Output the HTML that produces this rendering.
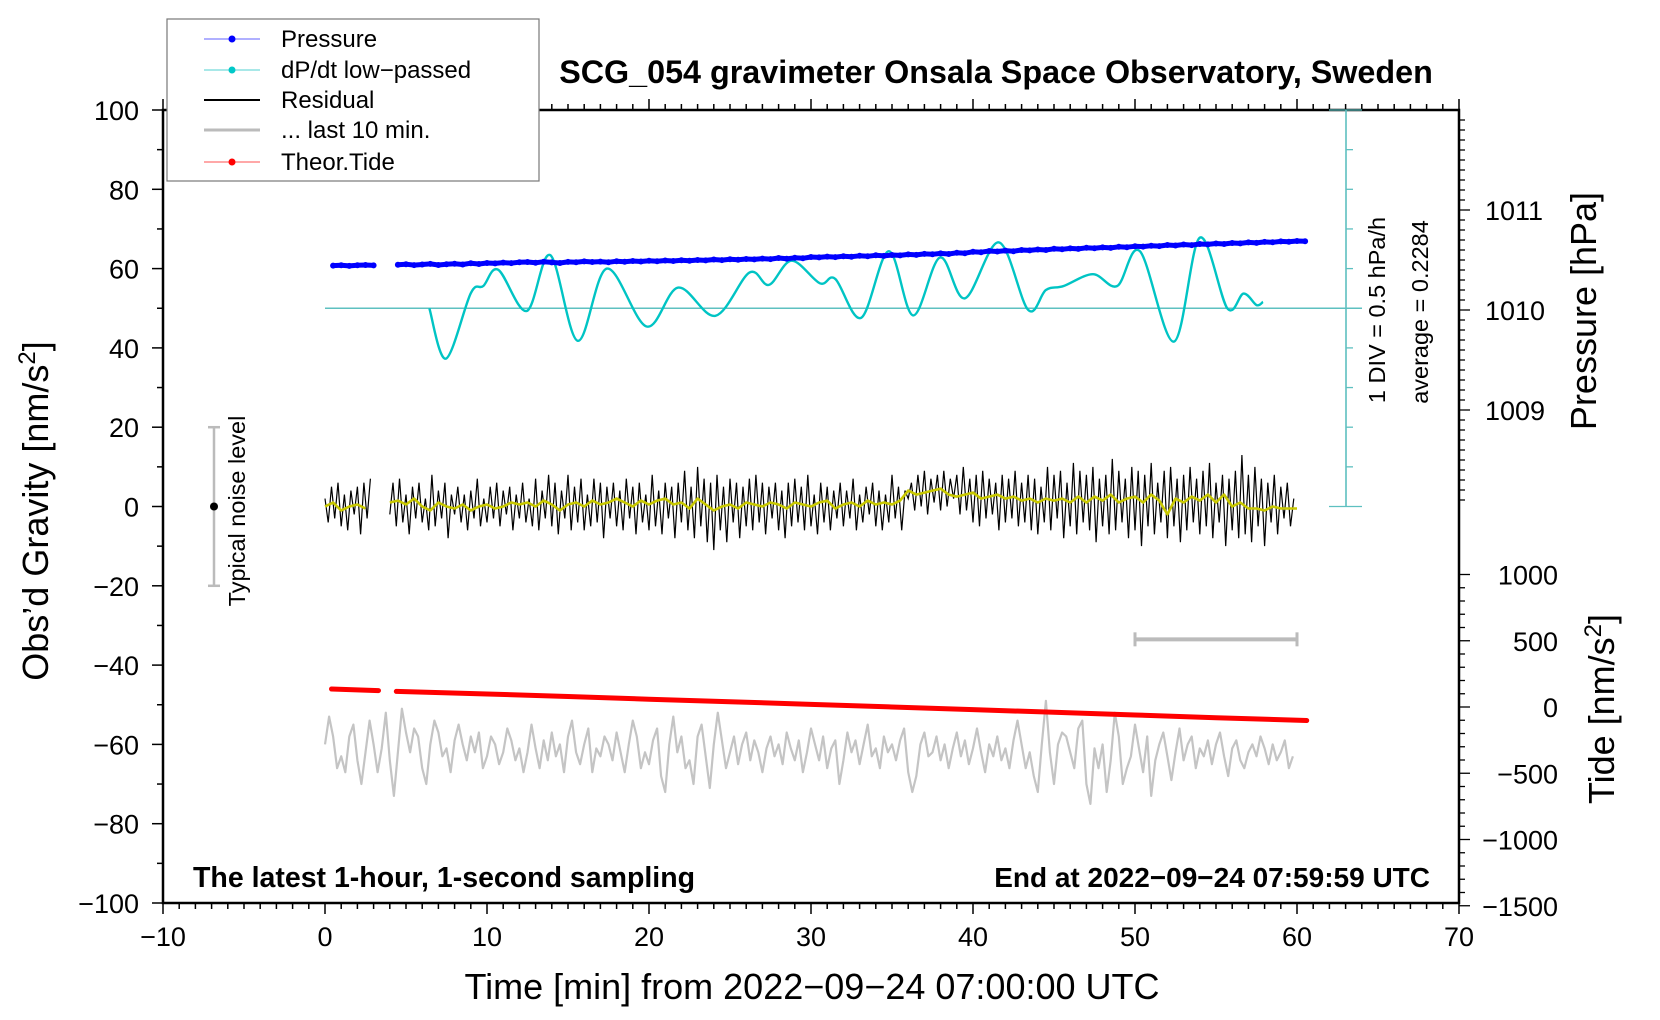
<!DOCTYPE html>
<html><head><meta charset="utf-8"><style>
html,body{margin:0;padding:0;background:#fff;overflow:hidden;}
svg{display:block;font-family:"Liberation Sans",sans-serif;}
</style></head><body>
<svg id="chart" width="1660" height="1020" viewBox="0 0 1660 1020" xmlns="http://www.w3.org/2000/svg">
<g id="axes"></g>
<g id="series"></g>
<text x="996" y="83" font-size="32.3" font-weight="bold" text-anchor="middle">SCG_054 gravimeter Onsala Space Observatory, Sweden</text>
<text x="193" y="887" font-size="28.5" font-weight="bold">The latest 1-hour, 1-second sampling</text>
<text x="1430" y="887" font-size="28" font-weight="bold" text-anchor="end">End at 2022−09−24 07:59:59 UTC</text>
<text x="812" y="999" font-size="36" text-anchor="middle">Time [min] from 2022−09−24 07:00:00 UTC</text>
<text transform="translate(48,511) rotate(-90)" font-size="36" text-anchor="middle">Obs’d Gravity [nm/s<tspan dy="-13" font-size="24">2</tspan><tspan dy="13">]</tspan></text>
<text transform="translate(1596,311) rotate(-90)" font-size="36" text-anchor="middle">Pressure [hPa]</text>
<text transform="translate(1614,709) rotate(-90)" font-size="36" text-anchor="middle">Tide [nm/s<tspan dy="-13" font-size="24">2</tspan><tspan dy="13">]</tspan></text>
<text transform="translate(1385,310) rotate(-90)" font-size="23.5" text-anchor="middle">1 DIV = 0.5 hPa/h</text>
<text transform="translate(1428,312) rotate(-90)" font-size="23.5" text-anchor="middle">average = 0.2284</text>
<text transform="translate(245,511) rotate(-90)" font-size="23.5" text-anchor="middle">Typical noise level</text>
<g>
<rect x="167" y="19" width="372" height="162" fill="#fff" stroke="#777" stroke-width="1.2"/>
<g><line x1="204" y1="39" x2="260" y2="39" stroke="#6060ff" stroke-width="1"/><circle cx="232" cy="39" r="3.5" fill="#0000ff"/><text x="281" y="47" font-size="24">Pressure</text></g>
<g><line x1="204" y1="70" x2="260" y2="70" stroke="#50d0d0" stroke-width="1"/><circle cx="232" cy="70" r="3.5" fill="#00c8c8"/><text x="281" y="78" font-size="24">dP/dt low−passed</text></g>
<g><line x1="204" y1="100" x2="260" y2="100" stroke="#000" stroke-width="2"/><text x="281" y="108" font-size="24">Residual</text></g>
<g><line x1="204" y1="130" x2="260" y2="130" stroke="#bbb" stroke-width="3"/><text x="281" y="138" font-size="24">... last 10 min.</text></g>
<g><line x1="204" y1="162" x2="260" y2="162" stroke="#ff5050" stroke-width="1"/><circle cx="232" cy="162" r="3.5" fill="#ff0000"/><text x="281" y="170" font-size="24">Theor.Tide</text></g>
</g>
</svg>
<script>
// ---- data ----
const xTicks = [-10,0,10,20,30,40,50,60,70];
const yTicks = [-100,-80,-60,-40,-20,0,20,40,60,80,100];
const pressureTicks = [1009,1010,1011];
const tideTicks = [-1500,-1000,-500,0,500,1000];
const pressureStart = 0.5, pressureStep = 0.5;
const pressureHPa = [1010.444,1010.448,1010.441,1010.447,1010.450,1010.446,null,null,
1010.452,1010.458,1010.449,1010.455,1010.461,1010.450,1010.457,1010.463,1010.455,1010.468,1010.460,1010.470,
1010.466,1010.474,1010.469,1010.478,1010.480,1010.472,1010.483,1010.476,1010.470,1010.481,1010.478,1010.486,1010.480,1010.484,1010.477,1010.488,1010.482,1010.490,1010.485,1010.493,
1010.488,1010.495,1010.490,1010.498,1010.492,1010.500,1010.496,1010.505,1010.499,1010.507,1010.503,1010.510,1010.506,1010.514,1010.509,1010.520,1010.512,1010.522,1010.517,1010.530,
1010.526,1010.534,1010.529,1010.538,1010.533,1010.542,1010.537,1010.547,1010.541,1010.550,1010.546,1010.556,1010.551,1010.561,1010.557,1010.566,1010.560,1010.572,1010.568,1010.582,
1010.578,1010.590,1010.585,1010.594,1010.588,1010.600,1010.596,1010.605,1010.600,1010.612,1010.607,1010.616,1010.611,1010.622,1010.618,1010.626,1010.621,1010.632,1010.628,1010.637,
1010.634,1010.643,1010.639,1010.650,1010.645,1010.655,1010.649,1010.660,1010.656,1010.665,1010.660,1010.670,1010.666,1010.676,1010.671,1010.681,1010.677,1010.686,1010.682,1010.690,1010.688];
const dpdtTimes = [6.44,7.47,9.0,9.77,10.7,12.45,13.9,15.6,17.4,19.85,21.8,24.1,26.2,27.4,28.8,30.55,31.5,33.1,34.8,36.3,37.96,39.5,41.6,43.4,44.5,45.6,47.4,48.9,50.3,52.4,54.0,55.7,56.7,57.5,57.9];
const dpdtValues = [0,-0.635,0.19,0.28,0.485,-0.035,0.67,-0.41,0.50,-0.23,0.26,-0.095,0.45,0.295,0.60,0.315,0.37,-0.12,0.72,-0.09,0.64,0.125,0.83,-0.02,0.23,0.28,0.43,0.28,0.72,-0.42,0.89,0.0,0.185,0.04,0.08];
const residualStep = 0.2;
const residual = [2,-4,5,-3,6,-5,3,-6,4,-2, 5,-7,6,-3,7,null,null,null,null,null,
-2,6,-5,7,-4,3,-7,5,-3,6, -4,2,-6,8,-5,4,-3,6,-8,3, -2,5,-4,3,-6,4,-3,7,-5,2,
-4,5,-3,6,-5,4,-2,5,-6,3, -3,6,-4,2,-5,7,-6,4,-3,8, -5,6,-7,4,-3,8,-6,5,-4,7,
-6,3,-5,7,-4,6,-8,5,-3,6, -5,4,-6,7,-3,5,-7,6,-4,3, -6,8,-5,4,-7,6,-3,5,-8,6,
-4,9,-6,5,-8,10,-5,7,-9,6, -11,8,-6,5,-9,7,-4,6,-8,5, -5,7,-6,8,-4,6,-7,5,-3,6,
-6,4,-8,6,-5,7,-4,5,-6,8, -5,3,-7,6,-4,5,-6,4,-3,6, -5,4,-3,7,-6,3,-4,5,-2,6,
-5,4,-6,3,-4,8,-3,5,-6,4, 2,6,-1,8,0,9,-2,7,1,8, -1,9,0,7,2,8,-2,10,-1,7,
-4,8,-5,9,-3,7,-2,6,-6,8, -4,7,-3,9,-5,6,-4,8,-6,7, -7,5,-4,10,-6,8,-3,9,-8,6,
-5,11,-7,9,-4,8,-6,10,-9,7, -5,8,-7,12,-6,9,-4,7,-8,10, -6,9,-10,8,-5,11,-7,6,-4,9,
-8,10,-5,7,-9,8,-6,10,-4,7, -7,9,-5,11,-8,6,-4,8,-10,7, -6,9,-8,13,-7,8,-9,10,-5,7,
-10,6,-4,8,-7,5,-3,6,-5,2];
const smoothStep = 0.5;
const residualSmooth = [0,1,-1,0,0.5,-0.5,null,null,1,1.5,0.5,2,0,-1,1,0,-0.5,0.5,-1,0,
0.5,-0.5,0,1,0.5,1,0,1.5,0.5,-1, 0.5,1,0,1.5,0.5,1,2,1,0,1.5, 0.5,1.5,2,0.5,1,-0.5,2,0.5,-1,0,
0.5,-0.5,1,0.5,0,1,0.5,-0.5,1,0.5, 0,1,1.5,-0.5,0.5,1,0,1.5,0.5,1, 0.5,1.5,4,3,3.5,4,4.5,3,2.5,3,
3.5,2,2.5,3,2,2.5,1.5,2,1,2, 1.5,2,1,2.5,1,2.5,1.5,3,1,2, 2.5,1,3,1.5,-2,2,1,2.5,1.5,3,
1,3,0,1,-0.5,-0.5,-1,0,-0.5,-0.5,-0.5];
const last10Step = 0.25;
const last10 = [-60,-53,-58,-66,-63,-67,-58,-55,-64,-70, -62,-54,-60,-67,-61,-52,-64,-73,-62,-51,
-57,-62,-56,-58,-66,-70,-60,-54,-57,-63, -61,-67,-59,-55,-60,-64,-58,-62,-57,-66,
-63,-58,-60,-65,-62,-56,-59,-64,-61,-67, -62,-55,-61,-66,-59,-64,-57,-63,-60,-67,
-58,-54,-62,-65,-60,-56,-67,-61,-63,-58, -60,-64,-57,-62,-67,-60,-54,-58,-66,-62,
-65,-59,-56,-68,-72,-60,-53,-62,-58,-66, -64,-70,-58,-55,-63,-71,-60,-52,-59,-66,
-62,-58,-65,-60,-57,-64,-59,-62,-67,-61, -58,-63,-60,-65,-57,-61,-64,-59,-67,-62,
-56,-60,-64,-58,-66,-61,-59,-70,-64,-57, -62,-59,-65,-60,-55,-63,-61,-66,-58,-62,
-60,-64,-59,-56,-67,-72,-68,-60,-57,-63, -62,-58,-64,-60,-66,-61,-57,-63,-59,-65,
-61,-56,-62,-67,-60,-63,-58,-64,-61,-66, -59,-54,-60,-66,-62,-68,-72,-60,-49,-62,
-70,-60,-57,-58,-62,-66,-56,-54,-70,-75, -61,-66,-60,-72,-64,-52,-58,-70,-66,-63,
-55,-61,-67,-58,-73,-64,-60,-57,-63,-69, -62,-56,-64,-60,-58,-66,-61,-63,-59,-65,
-60,-57,-63,-68,-61,-59,-64,-66,-62,-60, -63,-58,-61,-65,-60,-64,-62,-59,-66,-63];
const tideTimes = [0.4,3.3,null,4.4,10,15,20,25,30,35,40,45,50,55,60.6];
const tideValues = [136,124,null,118,98,79,59,40,20,0,-20,-40,-60,-81,-102];

// ---- axis functions ----
const X = m => 325 + m*16.2;
const Y = g => 506.5 - g*3.965;
const P = p => 310 - (p-1010)*100;
const T = t => 707 - t*0.1325;
const D = v => Y(50 + v*20); // dP/dt: 1 DIV (10 gravity units) = 0.5 hPa/h

const NS='http://www.w3.org/2000/svg';
function mk(tag, attrs, parent){const e=document.createElementNS(NS,tag);for(const k in attrs)e.setAttribute(k,attrs[k]);parent.appendChild(e);return e;}
const axes=document.getElementById('axes'), ser=document.getElementById('series');
const L=163,R=1459,TOP=110,B=903;

let fr=mk('rect',{x:L,y:TOP,width:R-L,height:B-TOP,fill:'none',stroke:'#000','stroke-width':2.5},axes);


for(let m=-10;m<=70;m++){
  const major = m%10===0;
  let t=mk('line',{x1:X(m),x2:X(m),y1:B,y2:B+(major?11:6),stroke:'#000','stroke-width':1.5},axes);
  
  
  let t2=mk('line',{x1:X(m),x2:X(m),y1:TOP,y2:TOP-(major?11:6),stroke:'#000','stroke-width':1.5},axes);
  
  
}
xTicks.forEach(v=>{
  let tx=mk('text',{x:X(v),y:946,'font-size':27,'text-anchor':'middle'},axes);
  tx.textContent=String(v).replace('-','−');
  
  
});
for(let g=-100;g<=100;g+=10){
  const major=g%20===0;
  let t=mk('line',{x1:L-(major?11:6),x2:L,y1:Y(g),y2:Y(g),stroke:'#000','stroke-width':1.5},axes);
  
  
}
yTicks.forEach(v=>{
  let tx=mk('text',{x:139,y:Y(v)+10,'font-size':27,'text-anchor':'end'},axes);
  tx.textContent=String(v).replace('-','−');
  
  
});
for(let p=1008.1;p<=1011.95;p+=0.1){
  const y=P(p); if(y<TOP||y>520) continue;
  const major=Math.abs(p-Math.round(p))<0.01;
  let t=mk('line',{x1:R,x2:R+(major?11:6),y1:y,y2:y,stroke:'#000','stroke-width':1.3},axes);
  
  
}
pressureTicks.forEach(v=>{
  let tx=mk('text',{x:1485,y:P(v)+10,'font-size':27},axes);
  tx.textContent=v;
  
  
});
for(let t=-1500;t<=1000;t+=100){
  const major=t%500===0;
  let tk=mk('line',{x1:R,x2:R+(major?11:6),y1:T(t),y2:T(t),stroke:'#000','stroke-width':1.3},axes);
  
  
}
tideTicks.forEach(v=>{
  let tx=mk('text',{x:1558,y:T(v)+10,'font-size':27,'text-anchor':'end'},axes);
  tx.textContent=String(v).replace('-','−');
  
  
});

let bl=mk('line',{x1:X(0),x2:1362,y1:D(0),y2:D(0),stroke:'#5ec0c0','stroke-width':1.6},ser);


const bx=1346, barTop=Y(100), barBot=Y(0);
let sb=mk('line',{x1:bx,x2:bx,y1:barTop,y2:barBot,stroke:'#5ec0c0','stroke-width':1.6},ser);


for(let k=0;k<=10;k++){
  const y=barTop+k*(barBot-barTop)/10; const long=(k===0||k===5||k===10);
  let t=mk('line',{x1:long?1329:bx,x2:long?1362:1353,y1:y,y2:y,stroke:'#5ec0c0','stroke-width':1.3},ser);
  
  
}

let nb=mk('g',{stroke:'#bbb','stroke-width':2.5},ser);


mk('line',{x1:214,x2:214,y1:Y(20),y2:Y(-20)},nb);
mk('line',{x1:208,x2:220,y1:Y(20),y2:Y(20)},nb);
mk('line',{x1:208,x2:220,y1:Y(-20),y2:Y(-20)},nb);
let nd=mk('circle',{cx:214,cy:Y(0),r:4,fill:'#000'},ser);



let lb=mk('g',{stroke:'#bbb','stroke-width':4},ser);


mk('line',{x1:X(50),x2:X(60),y1:Y(-33.5),y2:Y(-33.5)},lb);
mk('line',{x1:X(50),x2:X(50),y1:Y(-33.5)-7,y2:Y(-33.5)+7,'stroke-width':3},lb);
mk('line',{x1:X(60),x2:X(60),y1:Y(-33.5)-7,y2:Y(-33.5)+7,'stroke-width':3},lb);

function pathFrom(vals,start,step,fx,fy){
  let d='',pen=false;
  vals.forEach((v,i)=>{ if(v===null){pen=false;return;} const x=fx(start+i*step),y=fy(v); d+=(pen?'L':'M')+x.toFixed(1)+' '+y.toFixed(1); pen=true;});
  return d;
}
let g10=mk('path',{d:pathFrom(last10,0,last10Step,X,Y),fill:'none',stroke:'#c4c4c4','stroke-width':2.2,'stroke-linejoin':'round'},ser);


let td='',pen=false;
tideTimes.forEach((t,i)=>{ if(t===null){pen=false;return;} td+=(pen?'L':'M')+X(t).toFixed(1)+' '+T(tideValues[i]).toFixed(1); pen=true;});
let tl=mk('path',{d:td,fill:'none',stroke:'#ff0000','stroke-width':5,'stroke-linecap':'round'},ser);


let rl=mk('path',{d:pathFrom(residual,0,residualStep,X,Y),fill:'none',stroke:'#000','stroke-width':1.2},ser);


let ys=mk('path',{d:pathFrom(residualSmooth,0,smoothStep,X,Y),fill:'none',stroke:'#c8c800','stroke-width':2.6,'stroke-linejoin':'round'},ser);


(function(){
  const pts=dpdtTimes.map((t,i)=>[X(t),D(dpdtValues[i])]);
  let d='M'+pts[0][0]+' '+pts[0][1];
  for(let i=0;i<pts.length-1;i++){
    const p0=pts[Math.max(0,i-1)],p1=pts[i],p2=pts[i+1],p3=pts[Math.min(pts.length-1,i+2)];
    const c1=[p1[0]+(p2[0]-p0[0])/6,p1[1]+(p2[1]-p0[1])/6];
    const c2=[p2[0]-(p3[0]-p1[0])/6,p2[1]-(p3[1]-p1[1])/6];
    d+='C'+c1[0].toFixed(1)+' '+c1[1].toFixed(1)+' '+c2[0].toFixed(1)+' '+c2[1].toFixed(1)+' '+p2[0].toFixed(1)+' '+p2[1].toFixed(1);
  }
  let c=mk('path',{d:d,fill:'none',stroke:'#00c4c4','stroke-width':2.4},ser);
  
  
})();
let pl=mk('path',{d:pathFrom(pressureHPa,pressureStart,pressureStep,X,P),fill:'none',stroke:'#0000ff','stroke-width':5,'stroke-linejoin':'round'},ser);


pressureHPa.forEach((v,i)=>{
  if(v===null) return;
  let c=mk('circle',{cx:X(pressureStart+i*pressureStep),cy:P(v),r:3,fill:'#0000ff'},ser);
  
  
});
</script>
</body></html>
